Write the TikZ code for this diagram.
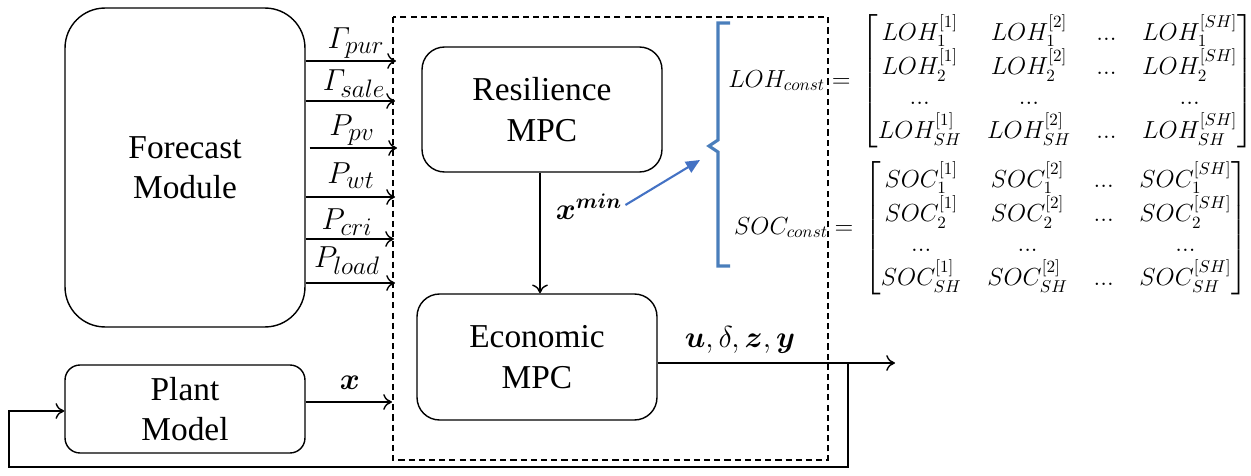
\documentclass[tikz,border=0pt]{standalone}
\usepackage{amsmath,bm}
\usepackage{fontspec}
\setmainfont{Liberation Serif}
\newfontfamily\tnr{Liberation Serif}
\usetikzlibrary{arrows.meta}
\definecolor{bl}{RGB}{74,126,187}
\definecolor{bla}{RGB}{68,114,196}
\newcommand{\sbs}[1]{_{\hbox{\fontsize{14.4}{15}\selectfont$#1$}}}
\begin{document}
\begin{tikzpicture}[x=0.02cm,y=-0.02cm,
  blockbox/.style={draw, line width=0.8pt, inner sep=0pt, align=center, minimum width=4.8cm,
     font=\tnr\fontsize{19}{23}\selectfont},
  arr/.style={line width=0.8pt, -{To[length=5pt,width=9pt]}},
  lbl/.style={inner sep=0pt, font=\fontsize{17.28}{20}\selectfont},
  mat/.style={inner sep=0pt, font=\fontsize{14.4}{17.2}\selectfont}]
\useasboundingbox (0,0) rectangle (1251,476);
% blocks
\node[blockbox, minimum height=6.38cm, rounded corners=0.8cm] (fc) at (185,167.5) {Forecast\\Module};
\node[blockbox, minimum height=1.76cm, rounded corners=0.3cm] (pm) at (185,409) {Plant\\Model};
\node[blockbox, minimum height=2.5cm, rounded corners=0.45cm] (rm) at (542,109.5) {Resilience\\MPC};
\node[blockbox, minimum height=2.52cm, rounded corners=0.45cm] (em) at (537,357) {Economic\\MPC};
% dashed frame
\draw[line width=0.7pt, dash pattern=on 3.5pt off 2.3pt] (393,17) rectangle (828,460);
% forecast outputs
\coordinate (i1) at (396,61);
\coordinate (i2) at (395,101);
\coordinate (i3) at (397,148);
\coordinate (i4) at (395,197);
\coordinate (i5) at (394,239);
\coordinate (i6) at (395,283);
\foreach \i in {1,2,4,5,6} {\draw[arr] (fc.east |- i\i) -- (i\i);}
\draw[arr] ([xshift=0.08cm]fc.east |- i3) -- (i3);
\node[lbl] (l1) at (356,43) {$\varGamma\!\sbs{pur}$};
\node[lbl] (l2) at (354,84) {$\varGamma\!\sbs{sale}$};
\node[lbl] (l3) at (352,130) {$P\sbs{pv}$};
\node[lbl] (l4) at (351,176) {$P\sbs{wt}$};
\node[lbl] (l5) at (347,222) {$P\sbs{cri}$};
\node[lbl] (l6) at (347,261) {$P\sbs{load}$};
% plant to economic
\coordinate (xin) at (392,402);
\draw[arr] (pm.east |- xin) -- (xin);
\node[lbl] (lx) at (350,383) {$\bm{x}$};
% resilience to economic
\draw[arr] (rm.south -| 540,0) -- (em.north -| 540,0);
\node[lbl] (lxm) at (589,207) {$\bm{x}^{\bm{min}}$};
% output and feedback
\coordinate (out) at (895,363);
\coordinate (tap) at (848,363);
\coordinate (fb1) at (848,467);
\coordinate (fb2) at (9,467);
\coordinate (fb3) at (9,411);
\draw[arr] (em.east |- out) -- (out);
\draw[line width=0.8pt, -{To[length=5pt,width=9pt]}] (tap) -- (fb1) -- (fb2) -- (fb3) -- (pm.west |- fb3);
\node[lbl] (lu) at (740,340) {$\bm{u},\delta,\bm{z},\bm{y}$};
% blue bracket and arrow
\draw[bl, line width=1.8pt] (730,23) -- (718,23) -- (718,140) -- (709,146) -- (718,152) -- (718,266) -- (730,266);
\coordinate (bt) at (700,160);
\draw[bla, line width=1.2pt, -{Triangle[length=8pt,width=7pt]}] (lxm.east) ++(3,-2) -- (bt);
% matrices
\node[mat] (loh) at (991,81) {\scalebox{0.975}{$\setlength{\arraycolsep}{7.5pt}LOH_{const}=\,\begin{bmatrix}
LOH_1^{[1]} & LOH_1^{[2]} & ... & LOH_1^{[SH]}\\
LOH_2^{[1]} & LOH_2^{[2]} & ... & LOH_2^{[SH]}\\
... & ... & & ...\\
LOH_{SH}^{[1]} & LOH_{SH}^{[2]} & ... & LOH_{SH}^{[SH]}
\end{bmatrix}$}};
\node[mat] (soc) at (991,228) {\scalebox{0.975}{$\setlength{\arraycolsep}{7.5pt}SOC_{const}=\,\begin{bmatrix}
SOC_1^{[1]} & SOC_1^{[2]} & ... & SOC_1^{[SH]}\\
SOC_2^{[1]} & SOC_2^{[2]} & ... & SOC_2^{[SH]}\\
... & ... & & ...\\
SOC_{SH}^{[1]} & SOC_{SH}^{[2]} & ... & SOC_{SH}^{[SH]}
\end{bmatrix}$}};
\end{tikzpicture}
\end{document}
